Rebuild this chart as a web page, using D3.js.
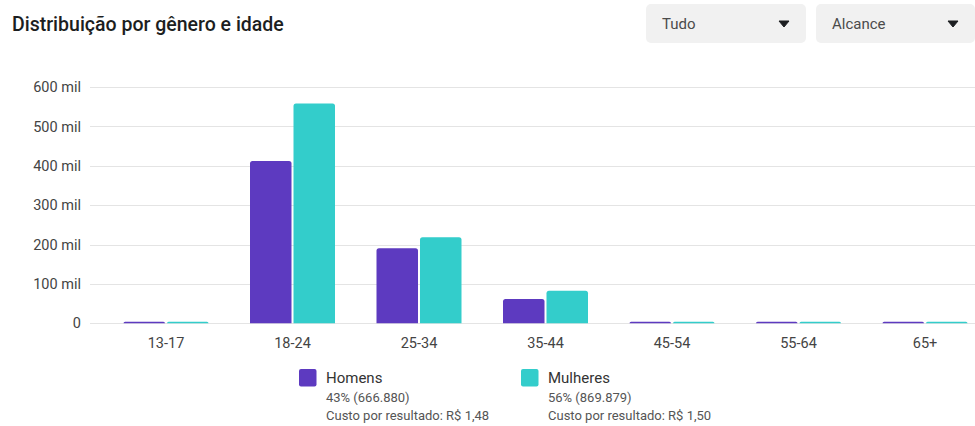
<!DOCTYPE html>
<html lang="pt-BR">
<head>
<meta charset="utf-8">
<script src="https://cdn.jsdelivr.net/npm/d3@7"></script>
<style>
  html, body { margin: 0; padding: 0; background: #ffffff; }
  svg { display: block; font-family: Roboto, "Noto Sans", sans-serif; }
</style>
</head>
<body>
<svg id="chart" width="975" height="426"></svg>
<script>
// Faixas etárias e alcance por gênero
const ageGroups = ["13-17", "18-24", "25-34", "35-44", "45-54", "55-64", "65+"];
const seriesNames = ["Homens", "Mulheres"];
const homens   = [600, 412000, 190400, 61700, 1200, 540, 440];
const mulheres = [1800, 558000, 218300, 82700, 4200, 2300, 2579];
const shares = ["43%", "56%"];
const costs = ["R$ 1,48", "R$ 1,50"];
const yTicks = [0, 100000, 200000, 300000, 400000, 500000, 600000];
const filterLabels = ["Tudo", "Alcance"];

const colors = ["#5d3ac0", "#33cdcb"];

const svg = d3.select("#chart");
const W = 975;

// Título
svg.append("text")
  .attr("x", 12).attr("y", 31)
  .attr("font-size", 19.5).attr("font-weight", 500)
  .attr("fill", "#1c1e21")
  .text("Distribuição por gênero e idade");

// Filtros (caixas suspensas)
const boxes = [{ x: 646, w: 160 }, { x: 816, w: 159 }];
boxes.forEach((b, i) => {
  const g = svg.append("g").attr("transform", `translate(${b.x},4)`);
  g.append("rect").attr("width", b.w).attr("height", 39).attr("rx", 5)
    .attr("fill", "#f1f1f1");
  g.append("text").attr("x", 16).attr("y", 25)
    .attr("font-size", 15).attr("fill", "#4b4b4b")
    .text(filterLabels[i]);
  const cx = b.w - 22, cy = 20;
  g.append("path")
    .attr("d", `M${cx - 5},${cy - 3}L${cx + 5},${cy - 3}L${cx},${cy + 3}Z`)
    .attr("fill", "#1c1e21").attr("stroke", "#1c1e21").attr("stroke-width", 1).attr("stroke-linejoin", "round");
});

// Escalas
const y = d3.scaleLinear().domain([0, 600000]).range([323.3, 87]);
const x = d3.scaleBand().domain(ageGroups).range([102.75, 988.25]).paddingInner(0).paddingOuter(0);
const barW = 41.5, gap = 2;

// Grade e eixo Y
const ptBR = d3.formatLocale({ decimal: ",", thousands: ".", grouping: [3], currency: ["R$ ", ""] });
const yAxis = d3.axisLeft(y)
  .tickValues(yTicks)
  .tickSize(0)
  .tickPadding(9)
  .tickFormat(d => d === 0 ? "0" : `${d / 1000} mil`);

const gy = svg.append("g").attr("transform", "translate(90,0)").call(yAxis);
gy.select(".domain").remove();
gy.selectAll("text").attr("font-size", 14.5).attr("fill", "#444").attr("font-family", "Roboto, sans-serif");

svg.append("g").selectAll("line").data(yTicks).join("line")
  .attr("x1", 90).attr("x2", W)
  .attr("y1", d => Math.round(y(d)) + 0.5).attr("y2", d => Math.round(y(d)) + 0.5)
  .attr("stroke", "#e4e4e4").attr("stroke-width", 1);

// Barras com cantos superiores arredondados
function barPath(x0, w, top, bottom, r) {
  const h = bottom - top;
  const rr = Math.min(r, h, w / 2);
  return `M${x0},${bottom}V${top + rr}Q${x0},${top} ${x0 + rr},${top}H${x0 + w - rr}Q${x0 + w},${top} ${x0 + w},${top + rr}V${bottom}Z`;
}

const rows = ageGroups.map((a, i) => ({ age: a, values: [homens[i], mulheres[i]] }));
const groups = svg.append("g").selectAll("g").data(rows).join("g");
groups.each(function (d) {
  const c = x(d.age) + x.bandwidth() / 2;
  d3.select(this).selectAll("path").data(d.values).join("path")
    .attr("d", (v, j) => {
      const x0 = j === 0 ? c - gap / 2 - barW : c + gap / 2;
      const top = Math.min(y(v), y(0) - 1.6);
      return barPath(x0, barW, top, y(0), 2.5);
    })
    .attr("fill", (v, j) => colors[j]);
});

// Eixo X
const xAxis = d3.axisBottom(x).tickSize(0).tickPadding(14);
const gx = svg.append("g").attr("transform", `translate(0,${y(0)})`).call(xAxis);
gx.select(".domain").remove();
gx.selectAll("text").attr("font-size", 14.5).attr("fill", "#444").attr("font-family", "Roboto, sans-serif");

// Legenda
const totals = [d3.sum(homens), d3.sum(mulheres)];
const fmt = ptBR.format(",d");
const legendX = [299, 521];
seriesNames.forEach((name, i) => {
  const g = svg.append("g").attr("transform", `translate(${legendX[i]},369)`);
  g.append("rect").attr("width", 17.5).attr("height", 17.5).attr("rx", 2).attr("fill", colors[i]);
  g.append("text").attr("x", 27).attr("y", 14).attr("font-size", 15).attr("fill", "#333").text(name);
  g.append("text").attr("x", 27).attr("y", 33).attr("font-size", 13).attr("fill", "#555")
    .text(`${shares[i]} (${fmt(totals[i])})`);
  g.append("text").attr("x", 27).attr("y", 50.5).attr("font-size", 13).attr("fill", "#555")
    .text(`Custo por resultado: ${costs[i]}`);
});
</script>
</body>
</html>
